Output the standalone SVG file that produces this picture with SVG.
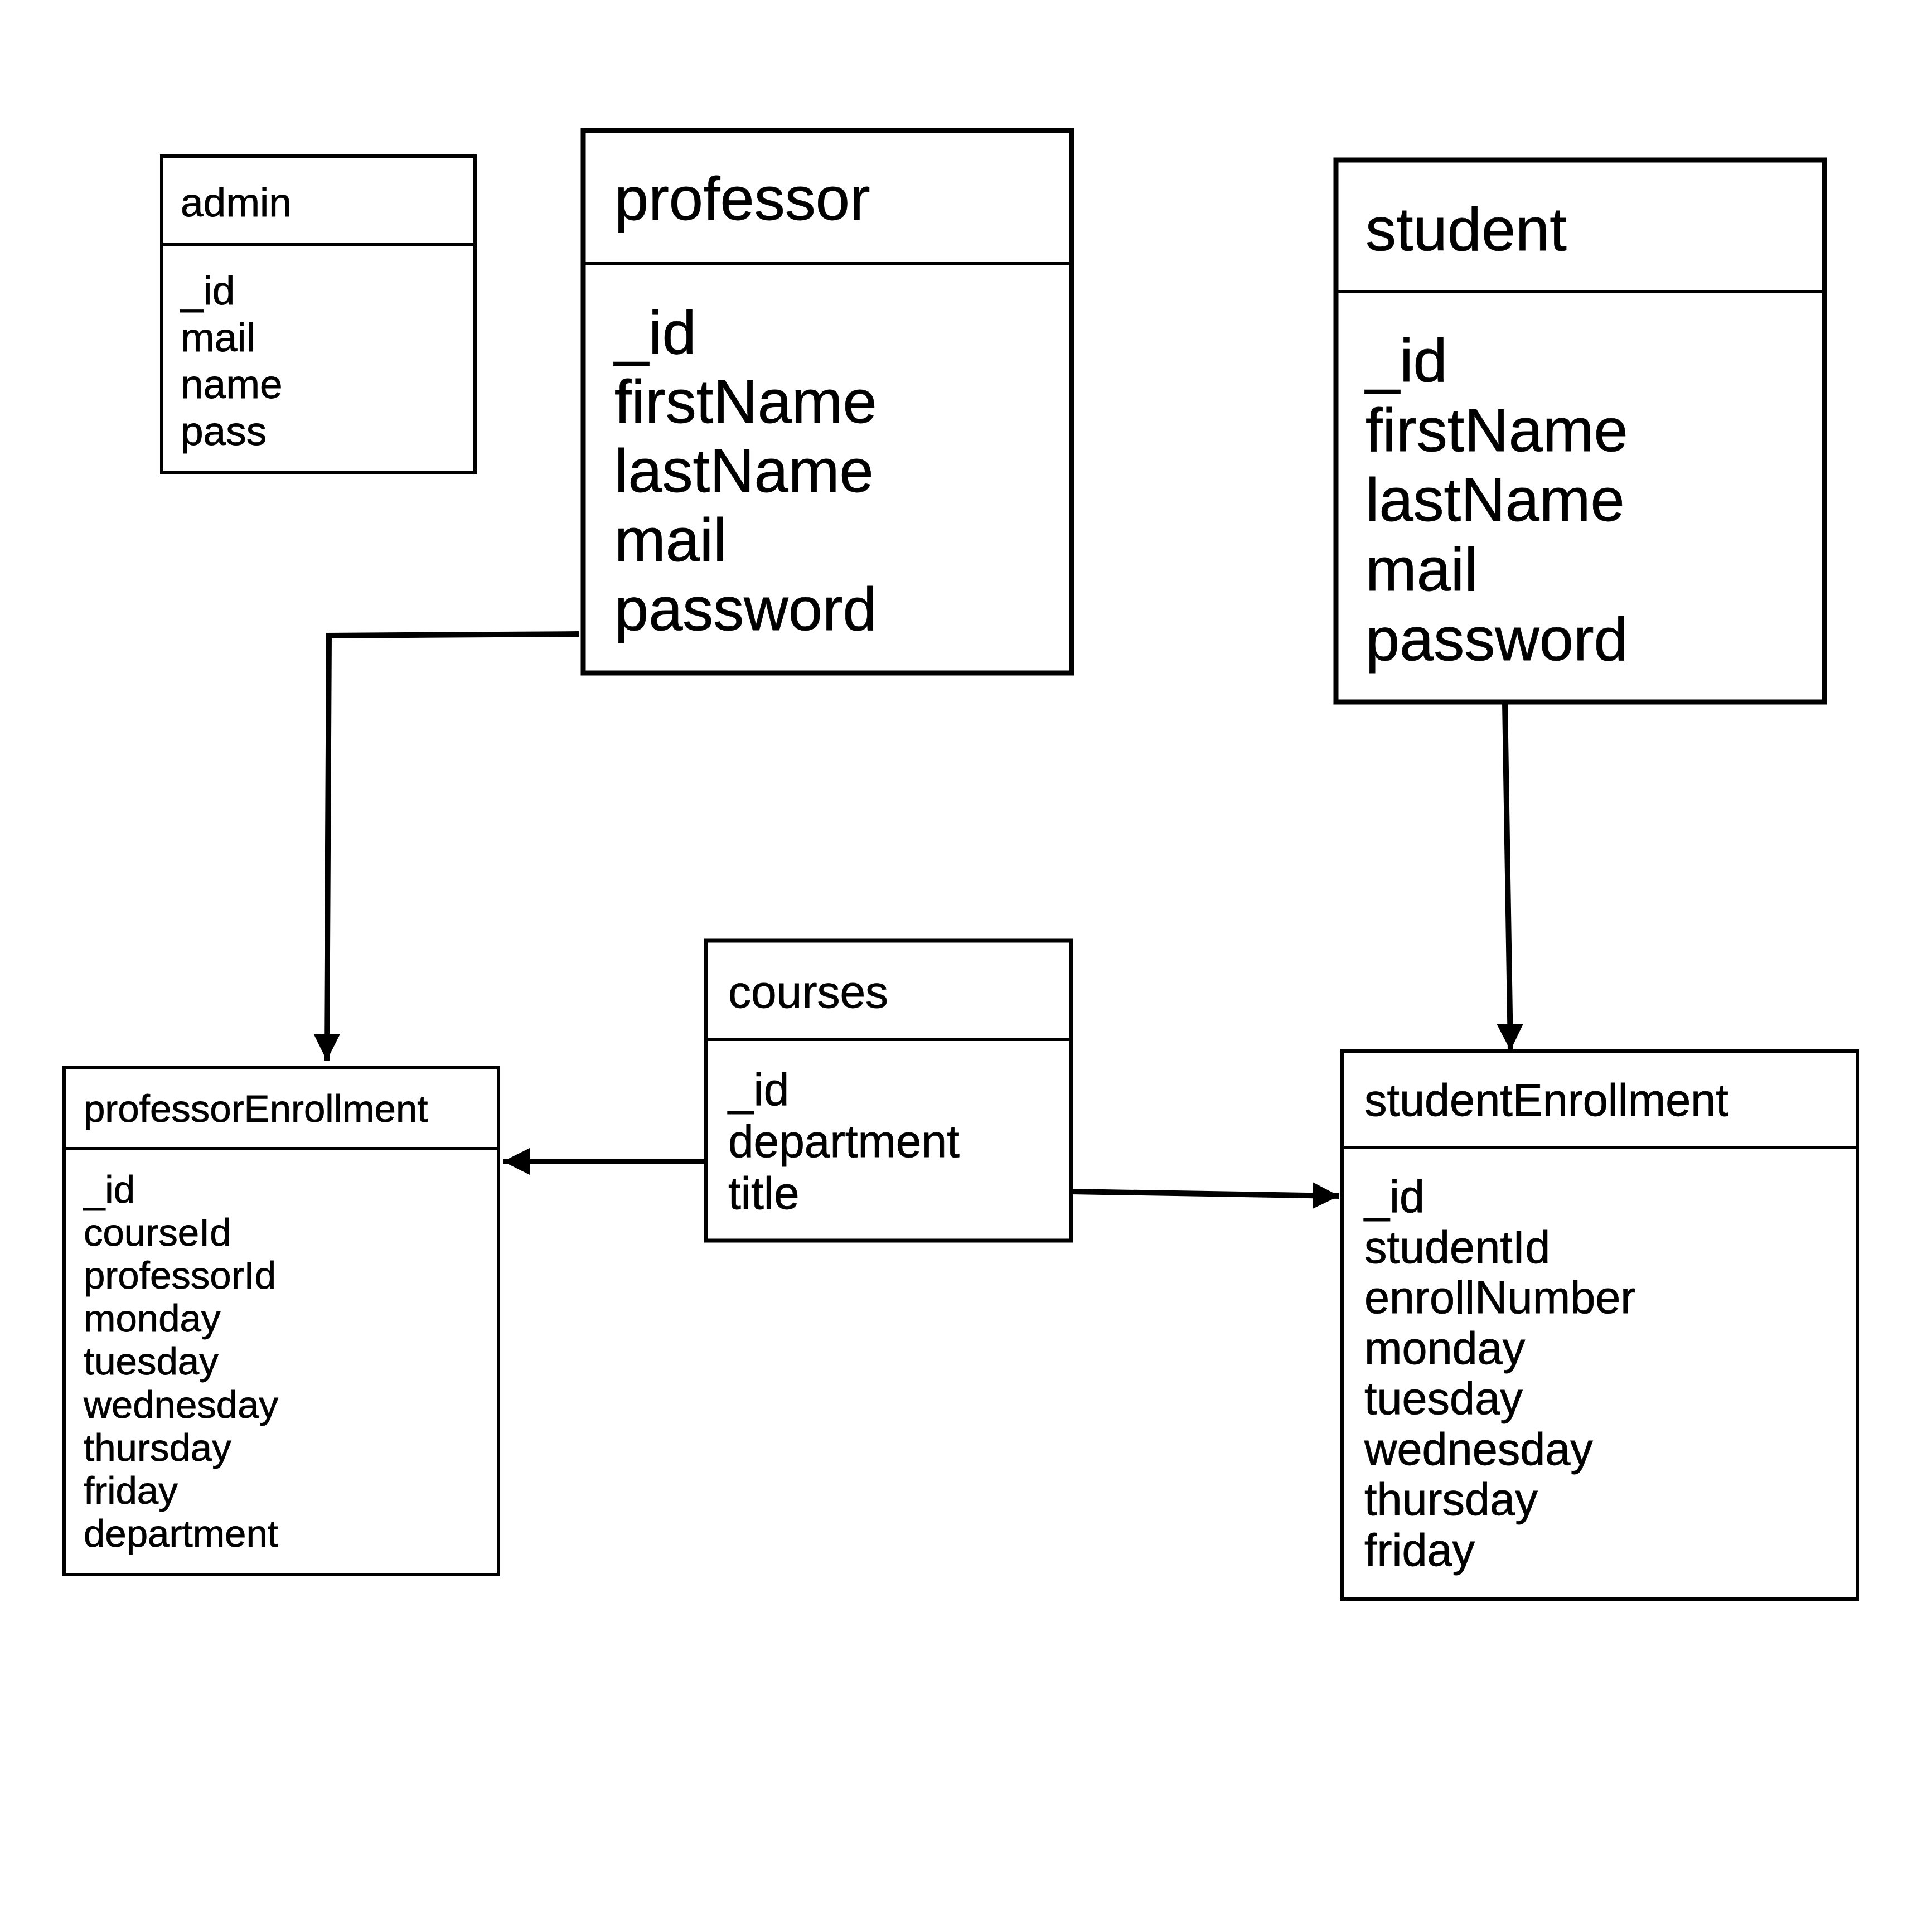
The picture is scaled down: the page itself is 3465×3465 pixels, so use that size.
<svg xmlns="http://www.w3.org/2000/svg" width="3465" height="3465" viewBox="0 0 3465 3465">
<style>
.box{fill:#fff;stroke:#000;stroke-width:6}
.thick{stroke-width:9}
.mid{stroke-width:7}
.div{stroke:#000;stroke-width:6;fill:none}
.t{font-family:"Liberation Sans",Arial,sans-serif;fill:#000;stroke:#000;stroke-width:0.8}
.conn{fill:none;stroke:#000;stroke-width:10}
</style>
<defs>
<marker id="arr" markerUnits="userSpaceOnUse" markerWidth="50" markerHeight="48" refX="48" refY="24" orient="auto">
<path d="M0,0 L48,24 L0,48 Z" fill="#000"/>
</marker>
</defs>
<rect width="3465" height="3465" fill="#fff"/>
<g id="admin">
<rect class="box" x="290" y="280" width="562" height="568"/>
<line class="div" x1="290" y1="438" x2="852" y2="438"/>
<text class="t" x="324" y="388" font-size="73">admin</text>
<g class="t" font-size="73">
<text x="324" y="546">_id</text>
<text x="324" y="630">mail</text>
<text x="324" y="714">name</text>
<text x="324" y="798">pass</text>
</g>
</g>
<g id="professor">
<rect class="box thick" x="1046" y="234" width="876" height="973"/>
<line class="div thick" x1="1046" y1="472" x2="1922" y2="472"/>
<text class="t" x="1102" y="394" font-size="110">professor</text>
<g class="t" font-size="110">
<text x="1102" y="634">_id</text>
<text x="1102" y="758">firstName</text>
<text x="1102" y="882">lastName</text>
<text x="1102" y="1006">mail</text>
<text x="1102" y="1130">password</text>
</g>
</g>
<g id="student">
<rect class="box thick" x="2396" y="287" width="876" height="972"/>
<line class="div thick" x1="2396" y1="523" x2="3272" y2="523"/>
<text class="t" x="2449" y="449" font-size="110">student</text>
<g class="t" font-size="110">
<text x="2449" y="684">_id</text>
<text x="2449" y="809">firstName</text>
<text x="2449" y="934">lastName</text>
<text x="2449" y="1059">mail</text>
<text x="2449" y="1184">password</text>
</g>
</g>
<g id="professorEnrollment">
<rect class="box" x="115" y="1915" width="779" height="909"/>
<line class="div" x1="115" y1="2060" x2="894" y2="2060"/>
<text class="t" x="150" y="2012" font-size="69">professorEnrollment</text>
<g class="t" font-size="69">
<text x="150" y="2157">_id</text>
<text x="150" y="2234">courseId</text>
<text x="150" y="2311">professorId</text>
<text x="150" y="2388">monday</text>
<text x="150" y="2465">tuesday</text>
<text x="150" y="2543">wednesday</text>
<text x="150" y="2620">thursday</text>
<text x="150" y="2697">friday</text>
<text x="150" y="2774">department</text>
</g>
</g>
<g id="courses">
<rect class="box mid" x="1266" y="1687" width="655" height="538"/>
<line class="div mid" x1="1266" y1="1864" x2="1921" y2="1864"/>
<text class="t" x="1306" y="1807" font-size="82">courses</text>
<g class="t" font-size="82">
<text x="1306" y="1982">_id</text>
<text x="1306" y="2075">department</text>
<text x="1306" y="2168">title</text>
</g>
</g>
<g id="studentEnrollment">
<rect class="box" x="2407" y="1885" width="924" height="983"/>
<line class="div" x1="2407" y1="2058" x2="3331" y2="2058"/>
<text class="t" x="2447" y="2001" font-size="81">studentEnrollment</text>
<g class="t" font-size="81">
<text x="2447" y="2174">_id</text>
<text x="2447" y="2265">studentId</text>
<text x="2447" y="2355">enrollNumber</text>
<text x="2447" y="2446">monday</text>
<text x="2447" y="2536">tuesday</text>
<text x="2447" y="2627">wednesday</text>
<text x="2447" y="2717">thursday</text>
<text x="2447" y="2808">friday</text>
</g>
</g>
<g id="connectors">
<path class="conn" d="M1038,1137 L590,1140 L586,1902" marker-end="url(#arr)"/>
<path class="conn" d="M2699,1259 L2709,1884" marker-end="url(#arr)"/>
<path class="conn" d="M1262,2083 L902,2083" marker-end="url(#arr)"/>
<path class="conn" d="M1921,2137 L2402,2145" marker-end="url(#arr)"/>
</g>
</svg>
